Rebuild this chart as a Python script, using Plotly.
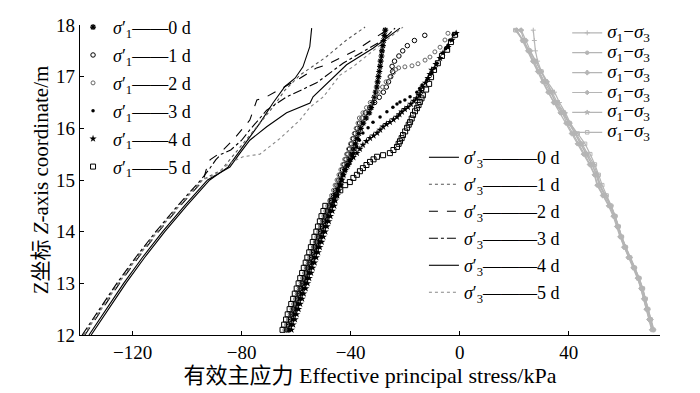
import plotly.graph_objects as go

DAYS = ["0 d", "1 d", "2 d", "3 d", "4 d", "5 d"]
X_TICKS = [-120, -80, -40, 0, 40]
Y_TICKS = [12, 13, 14, 15, 16, 17, 18]
X_TITLE = "有效主应力 Effective principal stress/kPa"
Y_TITLE = "Z坐标 <i>Z</i>-axis coordinate/m"

# ---------------- sigma1' (marker series) ----------------
Z1_LOW = [12.1, 12.2, 12.3, 12.4, 12.5, 12.6, 12.7, 12.8, 12.9, 13.0, 13.1, 13.2, 13.3,
          13.4, 13.5, 13.6, 13.7, 13.8, 13.9, 14.0, 14.1, 14.2, 14.3, 14.4, 14.5]

S1_0D_LOW = [-62.9, -62.3, -61.6, -61.0, -60.3, -59.7, -59.0, -58.4, -57.7, -57.0, -56.4, -55.7, -55.1,
             -54.4, -53.8, -53.1, -52.5, -51.8, -51.2, -50.5, -49.9, -49.2, -48.6, -47.9, -47.2]
S1_1D_LOW = [-63.5, -62.9, -62.2, -61.6, -60.9, -60.3, -59.6, -59.0, -58.3, -57.6, -57.0, -56.3, -55.7,
             -55.0, -54.4, -53.7, -53.1, -52.4, -51.8, -51.1, -50.5, -49.8, -49.2, -48.5, -47.8]
S1_2D_LOW = [-64.1, -63.5, -62.8, -62.2, -61.5, -60.9, -60.2, -59.6, -58.9, -58.2, -57.6, -56.9, -56.3,
             -55.6, -55.0, -54.3, -53.7, -53.0, -52.4, -51.7, -51.1, -50.4, -49.8, -49.1, -48.4]
S1_3D_LOW = [-62.3, -61.7, -61.0, -60.4, -59.7, -59.1, -58.4, -57.8, -57.1, -56.4, -55.8, -55.1, -54.5,
             -53.8, -53.2, -52.5, -51.9, -51.2, -50.6, -49.9, -49.3, -48.6, -48.0, -47.3, -46.6]
S1_4D_LOW = [-61.7, -61.1, -60.4, -59.8, -59.1, -58.5, -57.8, -57.2, -56.5, -55.8, -55.2, -54.5, -53.9,
             -53.2, -52.6, -51.9, -51.3, -50.6, -50.0, -49.3, -48.7, -48.0, -47.4, -46.7, -46.0]
S1_5D_LOW = [-65.0, -64.4, -63.7, -63.1, -62.4, -61.8, -61.1, -60.5, -59.8, -59.1, -58.5, -57.8, -57.2,
             -56.5, -55.9, -55.2, -54.6, -53.9, -53.3, -52.6, -52.0, -51.3, -50.7, -50.0, -49.3]

Z1_0D_UP = [14.6, 14.7, 14.8, 14.9, 15.0, 15.1, 15.2, 15.3, 15.4, 15.5, 15.6, 15.7, 15.8, 15.9, 16.0,
            16.1, 16.2, 16.3, 16.4, 16.5, 16.6, 16.7, 16.8, 16.9, 17.0, 17.1, 17.2, 17.3, 17.4, 17.5,
            17.6, 17.7, 17.8, 17.9]
S1_0D_UP = [-46.5, -45.7, -44.9, -44.1, -43.5, -42.9, -42.0, -41.0, -40.2, -39.5, -38.8, -38.2, -37.6,
            -37.0, -36.3, -35.4, -34.3, -33.2, -32.5, -31.9, -31.3, -30.8, -30.4, -30.1, -29.8, -29.5,
            -29.2, -29.0, -28.7, -28.5, -28.2, -27.9, -27.6, -27.3]

Z1_1D_UP = [14.6, 14.7, 14.8, 14.9, 15.0, 15.1, 15.2, 15.3, 15.4, 15.5, 15.6, 15.7, 15.8, 15.9, 16.0,
            16.1, 16.2, 16.3, 16.4, 16.5, 16.6, 16.7, 16.8, 16.9, 17.0, 17.1, 17.2, 17.3, 17.4, 17.5,
            17.6, 17.7, 17.8]
S1_1D_UP = [-47.0, -46.3, -45.6, -45.0, -44.3, -43.7, -43.0, -42.4, -41.7, -41.0, -40.4, -39.7, -39.0,
            -38.3, -37.6, -36.7, -35.8, -34.6, -33.0, -31.2, -29.5, -28.0, -26.9, -26.1, -25.3, -24.6,
            -24.8, -23.9, -22.3, -20.9, -19.2, -16.6, -12.8]

Z1_2D_UP = [14.6, 14.7, 14.8, 14.9, 15.0, 15.1, 15.2, 15.3, 15.4, 15.5, 15.6, 15.7, 15.8, 15.9, 16.0,
            16.1, 16.2, 16.3, 16.4, 16.5, 16.6, 16.7, 16.8, 16.9, 17.0, 17.08, 17.14, 17.17, 17.19,
            17.21, 17.25, 17.32, 17.38, 17.48, 17.57, 17.71, 17.84]
S1_2D_UP = [-47.7, -47.0, -46.3, -45.7, -45.0, -44.3, -43.6, -42.9, -42.2, -41.5, -40.8, -40.1, -39.4,
            -38.7, -38.0, -37.3, -36.8, -35.5, -34.2, -32.8, -31.3, -29.8, -28.3, -27.0, -25.6, -24.3,
            -23.4, -22.4, -20.1, -17.5, -15.3, -12.7, -10.9, -9.1, -7.2, -5.4, -4.3]

Z1_3D_UP = [14.6, 14.7, 14.8, 14.9, 15.0, 15.1, 15.19, 15.29, 15.39, 15.52, 15.64, 15.77, 15.91, 16.01,
            16.12, 16.22, 16.32, 16.41, 16.47, 16.51, 16.55, 16.61, 16.70, 16.77, 16.84, 16.94, 17.07,
            17.17, 17.26, 17.36, 17.46, 17.54, 17.61, 17.71, 17.81]
S1_3D_UP = [-46.0, -45.3, -44.6, -43.9, -43.3, -42.7, -42.1, -41.2, -40.3, -39.0, -37.7, -36.8, -35.5,
            -33.6, -31.8, -29.2, -26.7, -24.5, -23.0, -21.9, -20.1, -18.2, -15.7, -14.7, -13.8, -12.0,
            -10.2, -9.2, -8.3, -7.2, -6.1, -5.2, -4.3, -3.4, -2.4]

Z1_4D_UP = [14.6, 14.7, 14.8, 14.9, 15.0, 15.1, 15.19, 15.27, 15.35, 15.44, 15.52, 15.6, 15.68, 15.75,
            15.81, 15.86, 15.91, 15.97, 16.03, 16.08, 16.12, 16.17, 16.22, 16.27, 16.32, 16.37, 16.41,
            16.47, 16.53, 16.58, 16.64, 16.72, 16.80, 16.88, 16.97, 17.05, 17.13, 17.24, 17.36, 17.46,
            17.57, 17.71, 17.84]
S1_4D_UP = [-45.6, -44.9, -44.3, -43.7, -43.2, -42.6, -42.1, -41.2, -40.3, -39.0, -37.7, -36.6, -35.5,
            -34.2, -32.9, -31.6, -30.3, -29.2, -28.1, -26.9, -25.6, -24.3, -23.0, -22.1, -21.2, -20.1,
            -19.0, -17.9, -16.8, -15.9, -14.9, -14.2, -13.5, -12.6, -11.6, -10.9, -10.2, -8.7, -7.2,
            -6.1, -4.3, -2.8, -1.3]

Z1_5D_UP = [14.6, 14.7, 14.8, 14.9, 14.96, 15.04, 15.10, 15.17, 15.23, 15.29, 15.35, 15.40, 15.45, 15.48,
            15.52, 15.58, 15.64, 15.70, 15.75, 15.81, 15.87, 15.94, 16.01, 16.07, 16.12, 16.19, 16.26,
            16.33, 16.39, 16.45, 16.51, 16.58, 16.64, 16.75, 16.86, 16.99, 17.13, 17.26, 17.40, 17.52,
            17.67, 17.81]
S1_5D_UP = [-47.0, -45.4, -43.8, -42.0, -40.3, -39.0, -37.7, -36.6, -35.5, -34.2, -32.9, -31.6, -30.3,
            -28.1, -25.6, -24.3, -23.0, -22.4, -21.9, -21.3, -20.8, -20.0, -19.3, -18.7, -18.2, -17.6,
            -17.1, -16.4, -15.7, -15.1, -14.6, -14.0, -13.5, -12.3, -11.2, -10.5, -9.4, -8.0, -6.5,
            -4.6, -3.2, -1.7]

# ---------------- sigma3' (line series) ----------------
Z3_LOW = [12.0, 12.5, 13.0, 13.5, 14.0, 14.5]
S3_0D_LOW = [-135.2, -129.0, -122.5, -115.6, -108.2, -100.2]
S3_1D_LOW = [-138.0, -131.8, -125.3, -118.4, -111.0, -103.0]
S3_2D_LOW = [-137.5, -131.3, -124.8, -117.9, -110.5, -102.5]
S3_3D_LOW = [-138.5, -132.3, -125.8, -118.9, -111.5, -103.5]
S3_4D_LOW = [-136.0, -129.8, -123.3, -116.4, -109.0, -101.0]
S3_5D_LOW = [-137.8, -131.6, -125.1, -118.2, -110.8, -102.8]

Z3_0D_UP = [15.0, 15.25, 15.64, 16.1, 16.49, 16.81, 16.97, 17.19, 17.58, 17.94]
S3_0D_UP = [-91.7, -85.0, -79.5, -73.3, -68.5, -64.1, -60.4, -57.5, -55.0, -54.3]
Z3_1D_UP = [15.0, 15.19, 15.58, 15.97, 16.41, 16.74, 17.03, 17.23, 17.39, 17.71, 17.96]
S3_1D_UP = [-94.5, -87.5, -81.5, -75.5, -68.5, -64.1, -58.6, -53.1, -48.8, -41.5, -34.7]
Z3_2D_UP = [15.0, 15.2, 15.39, 15.52, 15.77, 16.16, 16.45, 16.55, 16.61, 16.80, 16.97, 17.17, 17.23,
            17.52, 17.90]
S3_2D_UP = [-94.0, -93.0, -91.6, -88.0, -83.2, -77.0, -75.1, -74.4, -70.9, -64.1, -58.6, -52.5, -48.8,
            -37.8, -26.8]
Z3_3D_UP = [15.0, 15.2, 15.39, 15.5, 15.58, 15.77, 15.97, 16.35, 16.61, 16.88, 17.26, 17.71, 17.94]
S3_3D_UP = [-95.0, -92.0, -89.5, -87.5, -84.0, -80.0, -77.0, -70.8, -63.5, -52.5, -42.8, -28.1, -23.7]
Z3_4D_UP = [15.0, 15.25, 15.45, 15.52, 15.77, 16.03, 16.30, 16.49, 16.61, 17.23, 17.55, 17.94]
S3_4D_UP = [-92.5, -84.3, -81.7, -80.6, -77.0, -70.8, -63.5, -54.9, -53.8, -41.5, -31.8, -21.9]
Z3_5D_UP = [15.0, 15.1, 15.33, 15.45, 15.5, 15.8, 16.16, 16.41, 16.61, 17.03, 17.19, 17.96]
S3_5D_UP = [-94.3, -89.8, -84.3, -79.5, -73.3, -66.0, -58.6, -54.9, -50.0, -43.9, -39.2, -20.8]

# ---------------- sigma1 - sigma3 (grey series) ----------------
Z_G = [12.1, 12.3, 12.5, 12.7, 12.9, 13.1, 13.3, 13.5, 13.7, 13.9, 14.1, 14.3, 14.5, 14.7, 14.9,
       15.1, 15.3, 15.5, 15.7, 15.9, 16.1, 16.3, 16.5, 16.7, 16.9, 17.1, 17.3, 17.5, 17.7, 17.9]
D_0D = [71.3, 70.3, 69.2, 68.1, 67.0, 65.8, 64.3, 62.6, 61.0, 59.4, 58.3, 57.0, 55.6, 53.6, 51.6,
        50.6, 49.2, 47.0, 45.0, 42.8, 40.6, 38.8, 36.6, 34.8, 32.2, 30.0, 28.6, 27.8, 27.4, 27.0]
D_1D = [70.6, 69.6, 68.5, 67.6, 66.6, 65.4, 63.8, 62.0, 60.4, 59.0, 57.8, 56.6, 54.9, 52.6, 50.6,
        49.6, 47.9, 45.8, 43.6, 41.4, 39.4, 37.6, 34.6, 32.6, 30.8, 28.9, 26.8, 25.2, 23.6, 22.4]
D_2D = [71.0, 70.0, 69.0, 68.0, 67.1, 65.8, 64.1, 62.4, 60.8, 59.4, 58.2, 57.0, 55.4, 53.4, 51.4,
        50.3, 48.6, 46.4, 44.3, 42.0, 40.2, 38.4, 35.8, 33.9, 31.9, 29.8, 27.8, 25.9, 24.3, 22.6]
D_3D = [70.4, 69.4, 68.4, 67.5, 66.5, 65.2, 63.6, 61.8, 60.2, 58.8, 57.6, 56.3, 54.6, 52.4, 50.4,
        49.4, 47.6, 45.4, 43.2, 41.0, 39.0, 36.9, 34.4, 32.4, 30.4, 28.6, 26.9, 25.0, 23.0, 21.0]
D_4D = [70.8, 69.9, 68.9, 67.9, 66.8, 65.5, 63.9, 62.3, 60.7, 59.3, 58.1, 56.9, 55.3, 53.2, 51.2,
        50.1, 48.5, 46.6, 44.6, 42.4, 40.0, 38.0, 35.4, 33.2, 31.1, 29.2, 27.2, 25.3, 23.4, 20.8]
D_5D = [71.1, 70.1, 69.1, 68.2, 67.2, 65.9, 64.2, 62.5, 60.9, 59.5, 58.3, 57.1, 55.6, 53.9, 52.3,
        51.0, 49.6, 47.9, 46.0, 43.3, 40.4, 37.6, 35.0, 33.6, 31.8, 30.0, 27.9, 25.6, 23.2, 20.4]

S1_SERIES = [
    (S1_0D_LOW + S1_0D_UP, Z1_LOW + Z1_0D_UP),
    (S1_1D_LOW + S1_1D_UP, Z1_LOW + Z1_1D_UP),
    (S1_2D_LOW + S1_2D_UP, Z1_LOW + Z1_2D_UP),
    (S1_3D_LOW + S1_3D_UP, Z1_LOW + Z1_3D_UP),
    (S1_4D_LOW + S1_4D_UP, Z1_LOW + Z1_4D_UP),
    (S1_5D_LOW + S1_5D_UP, Z1_LOW + Z1_5D_UP),
]
S3_SERIES = [
    (S3_0D_LOW + S3_0D_UP, Z3_LOW + Z3_0D_UP),
    (S3_1D_LOW + S3_1D_UP, Z3_LOW + Z3_1D_UP),
    (S3_2D_LOW + S3_2D_UP, Z3_LOW + Z3_2D_UP),
    (S3_3D_LOW + S3_3D_UP, Z3_LOW + Z3_3D_UP),
    (S3_4D_LOW + S3_4D_UP, Z3_LOW + Z3_4D_UP),
    (S3_5D_LOW + S3_5D_UP, Z3_LOW + Z3_5D_UP),
]
D_SERIES = [D_0D, D_1D, D_2D, D_3D, D_4D, D_5D]

S1_MARKERS = [
    dict(symbol="asterisk-open", size=5, color="black", line=dict(width=1.2, color="black")),
    dict(symbol="circle-open", size=4.5, color="black", line=dict(width=1, color="black")),
    dict(symbol="circle-open", size=4, color="#666666", line=dict(width=1, color="#666666")),
    dict(symbol="circle", size=3.5, color="black"),
    dict(symbol="star", size=5.5, color="black"),
    dict(symbol="square-open", size=5, color="black", line=dict(width=1, color="black")),
]
S3_LINES = [
    dict(color="black", width=1.1, dash="solid"),
    dict(color="#555555", width=1.1, dash="dot"),
    dict(color="black", width=1.1, dash="dash"),
    dict(color="black", width=1.1, dash="dashdot"),
    dict(color="black", width=1.1, dash="solid"),
    dict(color="#888888", width=1.1, dash="dot"),
]
G_SYMBOLS = ["cross-thin-open", "circle", "cross", "diamond", "star", "square-open"]
GREY = "#b5b5b5"
G_NAME = ('<span style="font-size:19px"><i>σ</i><sub>1</sub>−<i>σ</i><sub>3</sub></span>')

fig = go.Figure()

for i, d in enumerate(D_SERIES):
    fig.add_trace(go.Scatter(
        x=d, y=Z_G, mode="lines+markers",
        line=dict(color=GREY, width=1.2),
        marker=dict(symbol=G_SYMBOLS[i], size=3.5, color=GREY, line=dict(width=1, color=GREY)),
        name=G_NAME, legend="legend3"))

for i, (xs, zs) in enumerate(S3_SERIES):
    fig.add_trace(go.Scatter(
        x=xs, y=zs, mode="lines", line=S3_LINES[i], legendgroup="s3_%d" % i,
        name="<i>σ</i>′<sub>3</sub>———" + DAYS[i], legend="legend2"))

for i, (xs, zs) in enumerate(S1_SERIES):
    fig.add_trace(go.Scatter(
        x=xs, y=zs, mode="markers", marker=S1_MARKERS[i], legendgroup="s1_%d" % i,
        name="<i>σ</i>′<sub>1</sub>——" + DAYS[i], legend="legend"))

axis_common = dict(showline=True, linecolor="black", linewidth=1.2, ticks="inside", ticklen=4,
                   tickcolor="black", tickwidth=1, showgrid=False, zeroline=False, mirror=False,
                   automargin=True,
                   tickfont=dict(family="Liberation Serif", size=19, color="black"))

fig.update_layout(
    width=700, height=393,
    margin=dict(l=80, r=40, t=25, b=58, autoexpand=False),
    paper_bgcolor="white", plot_bgcolor="white",
    font=dict(family="Liberation Serif, Noto Sans CJK SC", size=18, color="black"),
    xaxis=dict(range=[-139.3, 73.5], tickvals=X_TICKS, **axis_common,
               title=dict(text=X_TITLE, standoff=5,
                          font=dict(family="Liberation Serif, Noto Sans CJK SC", size=22))),
    yaxis=dict(range=[12, 18], tickvals=Y_TICKS, **axis_common,
               title=dict(text=Y_TITLE, standoff=1,
                          font=dict(family="Liberation Serif, Noto Sans CJK SC", size=21))),
    legend=dict(x=-0.012, y=1.052, xanchor="left", yanchor="top", bgcolor="rgba(0,0,0,0)",
                font=dict(family="Liberation Serif", size=18), itemwidth=30, tracegroupgap=1.5),
    legend2=dict(x=0.593, y=0.632, xanchor="left", yanchor="top", bgcolor="rgba(0,0,0,0)",
                 font=dict(family="Liberation Serif", size=18), itemwidth=30, tracegroupgap=0.6),
    legend3=dict(x=0.840, y=1.023, xanchor="left", yanchor="top", bgcolor="rgba(0,0,0,0)",
                 font=dict(family="Liberation Serif", size=13), itemwidth=30, tracegroupgap=0),
    showlegend=True,
)

fig.write_html("out.html", config={"displayModeBar": False},
               post_script="document.body.style.margin='0px';")
